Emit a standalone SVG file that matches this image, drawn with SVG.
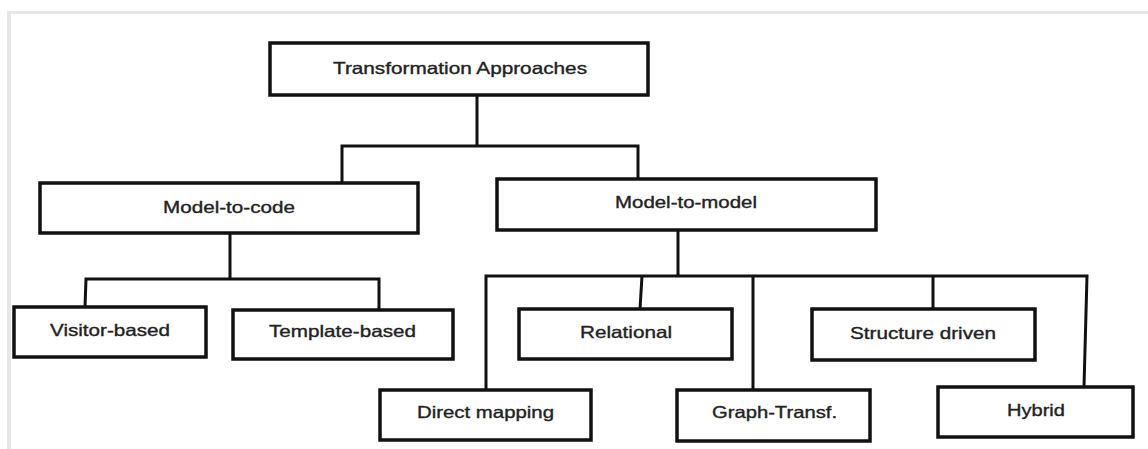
<svg xmlns="http://www.w3.org/2000/svg" width="1148" height="449" viewBox="0 0 1148 449">
<style>
.box{fill:#fff;stroke:#111;stroke-width:3.5}
.lbl{font-family:"Liberation Sans",Arial,sans-serif;font-size:16.5px;fill:#222;stroke:#222;stroke-width:0.35}
.conn{fill:none;stroke:#111;stroke-width:3;stroke-linejoin:miter;stroke-linecap:square}
</style>
<rect x="0" y="0" width="1148" height="449" fill="#fff"/>
<g id="frame">
<line x1="7" y1="12.5" x2="1148" y2="12.5" stroke="#e6e6e6" stroke-width="3"/>
<line x1="9" y1="12" x2="9" y2="449" stroke="#e6e6e6" stroke-width="4"/>
</g>
<g id="connectors">
<path class="conn" d="M477 95 V146 M342 146 H638 M342 146 V183 M638 146 V178"/>
<path class="conn" d="M230 233 V279 M86 279 H379 M86 279 L85 307 M379 279 V309"/>
<path class="conn" d="M678 230 V276 M486 276 H1087 M486 276 V389 M642 276 L640 309 M753 276 V390 M933 276 V309 M1087 276 L1084 387"/>
</g>
<g id="n-root">
<rect class="box" x="270" y="43" width="378" height="52"/>
<text class="lbl" x="333" y="74" textLength="254" lengthAdjust="spacingAndGlyphs">Transformation Approaches</text>
</g>
<g id="n-m2c">
<rect class="box" x="40" y="183" width="378" height="50"/>
<text class="lbl" x="163" y="213" textLength="132" lengthAdjust="spacingAndGlyphs">Model-to-code</text>
</g>
<g id="n-m2m">
<rect class="box" x="497" y="179" width="379" height="51"/>
<text class="lbl" x="615" y="208" textLength="142" lengthAdjust="spacingAndGlyphs">Model-to-model</text>
</g>
<g id="n-visitor">
<rect class="box" x="14" y="307" width="192" height="50"/>
<text class="lbl" x="50" y="336" textLength="120" lengthAdjust="spacingAndGlyphs">Visitor-based</text>
</g>
<g id="n-template">
<rect class="box" x="233" y="310" width="220" height="49"/>
<text class="lbl" x="269" y="337" textLength="147" lengthAdjust="spacingAndGlyphs">Template-based</text>
</g>
<g id="n-relational">
<rect class="box" x="519" y="309" width="213" height="50"/>
<text class="lbl" x="580" y="338" textLength="92" lengthAdjust="spacingAndGlyphs">Relational</text>
</g>
<g id="n-structure">
<rect class="box" x="812" y="309" width="223" height="51"/>
<text class="lbl" x="850" y="339" textLength="146" lengthAdjust="spacingAndGlyphs">Structure driven</text>
</g>
<g id="n-direct">
<rect class="box" x="380" y="390" width="211" height="50"/>
<text class="lbl" x="417" y="418" textLength="137" lengthAdjust="spacingAndGlyphs">Direct mapping</text>
</g>
<g id="n-graph">
<rect class="box" x="677" y="390" width="193" height="51"/>
<text class="lbl" x="712" y="418" textLength="125" lengthAdjust="spacingAndGlyphs">Graph-Transf.</text>
</g>
<g id="n-hybrid">
<rect class="box" x="938" y="387" width="195" height="50"/>
<text class="lbl" x="1007" y="416" textLength="58" lengthAdjust="spacingAndGlyphs">Hybrid</text>
</g>
</svg>
